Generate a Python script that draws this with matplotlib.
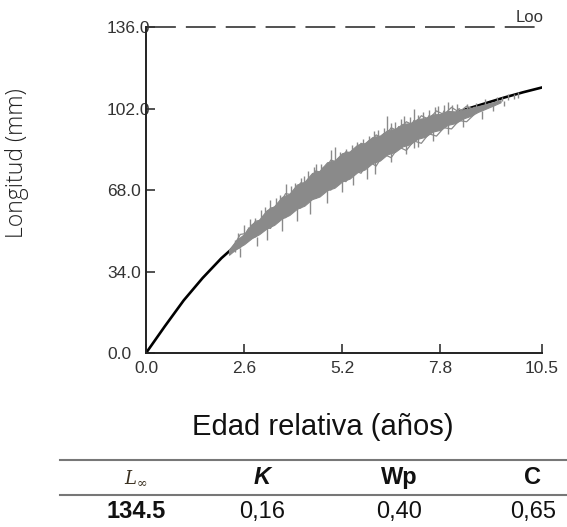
import matplotlib
matplotlib.use('Agg')
import matplotlib.pyplot as plt
from matplotlib.lines import Line2D

plt.rcParams['font.family'] = ['Liberation Sans', 'DejaVu Sans']
plt.rcParams['lines.scale_dashes'] = False

# growth curve (black)
age = [0.0, 0.5, 1.0, 1.5, 2.0, 2.5, 3.0, 3.5, 4.0, 4.5, 5.0, 5.5,
       6.0, 6.5, 7.0, 7.5, 8.0, 8.5, 9.0, 9.5, 10.0, 10.5]
length = [0.0, 11.2, 22.0, 31.3, 39.6, 46.6, 53.0, 59.2, 64.9, 70.2, 75.2, 79.8,
          84.2, 88.3, 92.0, 95.5, 98.8, 101.8, 104.2, 106.6, 108.8, 110.8]

# grey cloud of observed traces: lower / upper edge of the dense band
band_x = [2.2, 2.4, 2.6, 2.8, 3.0, 3.2, 3.4, 3.6, 3.8, 4.0, 4.2, 4.4, 4.6,
          4.8, 5.0, 5.2, 5.4, 5.6, 5.8, 6.0, 6.2, 6.4, 6.6, 6.8, 7.0, 7.2,
          7.4, 7.6, 7.8, 8.0, 8.2, 8.4, 8.6, 8.8, 9.0, 9.2, 9.4]
band_lo = [41.0, 43.6, 45.4, 47.9, 49.6, 52.0, 53.5, 56.1, 57.6, 60.2, 61.5, 64.2, 65.3,
           67.9, 69.0, 71.6, 72.8, 75.4, 76.6, 79.2, 80.3, 82.9, 83.9, 86.2, 87.1, 89.4,
           90.2, 92.4, 93.1, 95.2, 95.9, 97.8, 98.9, 100.6, 101.9, 103.2, 104.6]
band_hi = [43.2, 47.2, 49.6, 53.8, 55.7, 59.6, 61.3, 65.1, 66.4, 70.3, 71.4, 75.1, 76.0,
           79.6, 80.3, 83.4, 84.1, 86.9, 87.6, 90.1, 90.7, 93.0, 93.5, 95.6, 95.9, 97.7,
           98.0, 99.6, 99.7, 101.0, 100.8, 101.6, 102.2, 103.0, 103.8, 104.6, 105.5]

# jagged spikes sticking out of the band
spike_x = [2.35, 2.45, 2.6, 2.7, 2.75, 2.9, 3.05, 3.15, 3.3, 3.45, 3.55, 3.7, 3.85,
           3.95, 4.1, 4.2, 4.3, 4.45, 4.5, 4.65, 4.9, 5.0, 5.15, 5.3, 5.45, 5.6,
           5.75, 5.9, 6.05, 6.15, 6.3, 6.4, 6.5, 6.6, 6.75, 6.85, 7.0, 7.1, 7.2,
           7.35, 7.5, 7.65, 7.75, 7.9, 8.0, 8.1, 8.25, 8.5, 8.75, 9.0, 9.3, 9.45,
           9.6, 9.75, 9.85,
           2.5, 2.95, 3.2, 3.6, 4.0, 4.35, 4.8, 5.2, 5.5, 5.85, 6.07, 6.5, 6.9,
           7.1, 7.2, 7.6, 8.0, 8.4, 8.9, 9.2, 9.5]
spike_lo = [42.0, 44.0, 46.5, 48.0, 49.0, 51.0, 53.0, 54.5, 56.0, 58.0, 59.0, 61.0, 63.0,
            64.0, 66.0, 67.0, 68.0, 69.5, 70.0, 71.5, 74.0, 75.0, 76.5, 78.0, 79.0, 81.0,
            82.0, 83.0, 84.5, 85.5, 86.5, 87.5, 88.0, 89.0, 90.0, 91.0, 92.0, 93.0, 94.0,
            95.0, 95.5, 96.5, 97.0, 98.0, 98.5, 99.0, 99.5, 100.5, 101.5, 103.0, 104.5, 105.0,
            105.5, 106.0, 106.5,
            40.0, 44.5, 47.0, 51.0, 55.0, 58.0, 62.5, 67.0, 70.0, 72.5, 74.5, 79.5, 83.0,
            85.5, 86.0, 88.5, 91.5, 94.5, 97.5, 101.0, 103.0]
spike_hi = [47.0, 50.0, 53.5, 52.5, 56.0, 56.5, 59.5, 61.0, 64.0, 64.5, 66.0, 70.5, 69.5,
            71.0, 73.0, 74.0, 76.0, 77.5, 79.0, 79.0, 84.6, 85.8, 84.0, 85.0, 87.0, 88.0,
            89.5, 90.5, 92.5, 93.0, 94.0, 99.0, 96.0, 96.5, 97.5, 99.0, 98.5, 102.0, 99.5,
            100.5, 101.5, 102.5, 103.0, 103.5, 104.6, 103.5, 104.0, 104.0, 104.5, 106.0, 107.0, 107.0,
            108.0, 108.0, 109.0,
            44.0, 48.5, 52.0, 56.5, 60.5, 63.5, 68.0, 72.0, 75.5, 78.0, 81.0, 84.0, 87.5,
            90.5, 90.0, 93.0, 96.0, 98.5, 101.0, 104.0, 105.0]

# a few thin zig-zag traces over the band
trace_x = [2.3, 2.5, 2.7, 2.9, 3.1, 3.3, 3.5, 3.7, 3.9, 4.1, 4.3, 4.5, 4.7, 4.9,
           5.1, 5.3, 5.5, 5.7, 5.9, 6.1, 6.3, 6.5, 6.7, 6.9, 7.1, 7.3, 7.5, 7.7,
           7.9, 8.1, 8.3, 8.5, 8.7]
trace_a = [44.0, 49.5, 50.0, 55.0, 55.5, 60.5, 61.0, 66.5, 66.0, 71.0, 70.5, 76.0, 75.0,
           80.5, 79.5, 84.0, 83.0, 87.5, 86.5, 91.0, 89.5, 94.0, 92.5, 96.5, 95.0, 99.0,
           97.5, 101.0, 99.5, 102.5, 100.5, 103.0, 101.5]
trace_b = [42.5, 44.0, 48.0, 48.5, 52.5, 52.0, 57.5, 56.5, 62.0, 60.5, 66.0, 64.5, 69.5,
           68.0, 73.0, 71.5, 76.5, 75.0, 80.0, 78.0, 83.0, 81.5, 86.0, 84.5, 88.5, 87.5,
           91.5, 90.5, 94.0, 93.5, 97.0, 96.5, 99.5]
trace_c = [43.0, 46.0, 51.5, 50.0, 57.0, 54.0, 62.5, 59.0, 67.5, 63.0, 72.5, 67.5, 77.5,
           71.5, 81.0, 75.5, 85.0, 79.5, 88.5, 83.0, 91.5, 86.5, 94.5, 89.5, 97.0, 92.0,
           99.0, 94.5, 101.0, 97.0, 102.0, 99.0, 102.5]

xticks = [0.0, 2.6, 5.2, 7.8, 10.5]
yticks = [0.0, 34.0, 68.0, 102.0, 136.0]
l_inf_line = 136.0

table_head = [r'$L_\infty$', 'K', 'Wp', 'C']
table_vals = ['134.5', '0,16', '0,40', '0,65']

fig = plt.figure(figsize=(5.67, 5.27), dpi=100)
ax = fig.add_axes([0.2575, 0.330, 0.6985, 0.6187])

grey = '#8a8a8a'
ax.plot(age, length, color='black', lw=1.9, zorder=2, solid_capstyle='round')
ax.fill_between(band_x, band_lo, band_hi, color=grey, lw=0.8, edgecolor=grey, zorder=3)
for tr in (trace_a, trace_b, trace_c):
    ax.plot(trace_x, tr, color=grey, lw=0.9, zorder=3)
ax.vlines(spike_x, spike_lo, spike_hi, color=grey, lw=1.0, zorder=3)

ax.plot([0, 10.32], [l_inf_line, l_inf_line], color='#333333', lw=1.2,
        dashes=(21.5, 7.2), clip_on=False)
ax.text(9.79, l_inf_line + 0.8, 'Loo', fontsize=12, color='#333333',
        ha='left', va='bottom')

ax.set_xlim(0, 10.5)
ax.set_ylim(0, 136)
ax.set_xticks(xticks)
ax.set_xticklabels(['{:.1f}'.format(v) for v in xticks])
ax.set_yticks(yticks)
ax.set_yticklabels(['{:.1f}'.format(v) for v in yticks])
for s in ['top', 'right']:
    ax.spines[s].set_visible(False)
for s in ['left', 'bottom']:
    ax.spines[s].set_linewidth(1.4)
    ax.spines[s].set_color('#222222')
ax.tick_params(direction='in', length=6.5, width=1.1, color='#222222',
               labelsize=12.5, labelcolor='#333333')
ax.tick_params(axis='x', pad=6)
ax.tick_params(axis='y', pad=28)
plt.setp(ax.get_yticklabels(), ha='left')

fig.text(0.03, 0.69, 'Longitud (mm)', rotation=90, ha='center', va='center',
         fontsize=16.5, color='#222222', family=['Open Sans', 'DejaVu Sans'],
         fontweight='light')
fig.text(0.57, 0.19, 'Edad relativa (años)', ha='center', va='center',
         fontsize=21, color='#111111')

# parameter table under the plot
col_x = [0.240, 0.462, 0.704, 0.940]
fig.add_artist(Line2D([0.106, 1.0], [0.127, 0.127], color='#777777', lw=1.5))
fig.add_artist(Line2D([0.106, 1.0], [0.061, 0.061], color='#777777', lw=1.5))
for i, (h, v) in enumerate(zip(table_head, table_vals)):
    if i == 0:
        fig.text(col_x[i], 0.094, h, ha='center', va='center', fontsize=13,
                 color='#3a3020', math_fontfamily='dejavuserif')
        fig.text(col_x[i], 0.029, v, ha='center', va='center', fontsize=17,
                 fontweight='bold', color='#111111')
    else:
        fig.text(col_x[i], 0.094, h, ha='center', va='center', fontsize=17,
                 fontweight='bold', style='italic' if h == 'K' else 'normal',
                 color='#111111')
        fig.text(col_x[i], 0.029, v, ha='center', va='center', fontsize=17,
                 color='#111111')

fig.savefig('out.png', dpi=100)
